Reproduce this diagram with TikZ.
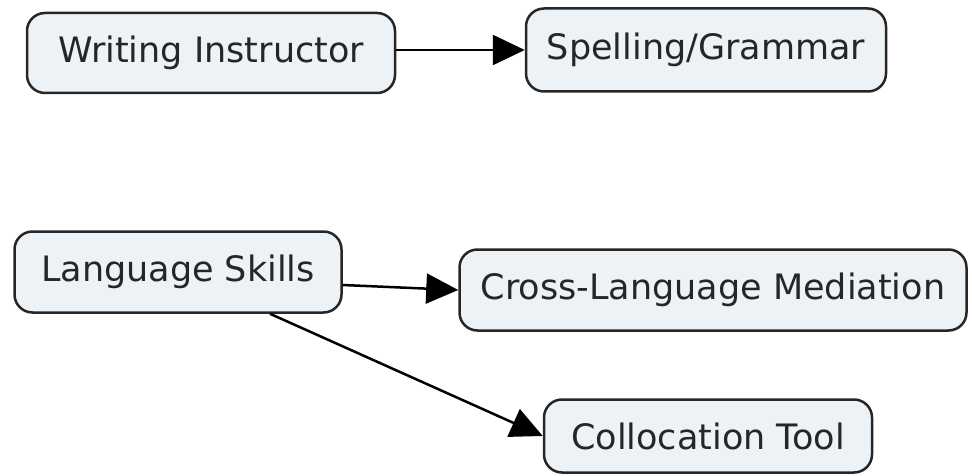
\documentclass[tikz,border=0pt]{standalone}
\usepackage{fontspec}
\setmainfont{DejaVu Sans}
\usetikzlibrary{arrows.meta}
\definecolor{boxfill}{RGB}{236,242,245}
\begin{document}
\begin{tikzpicture}[x=1pt, y=-1pt, >={Triangle[length=32pt,width=30pt]},
		concept/.style={draw=black!85, line width=2.5pt, fill=boxfill, rounded corners=18pt,
			inner sep=0pt, font=\fontsize{35}{42}\selectfont, text=black!85},
		link/.style={->, line width=2.5pt, black}]
		\useasboundingbox (0,0) rectangle (972,476);
		\node[concept, minimum width=368pt, minimum height=80pt] (wi) at (211,53) {Writing Instructor};
		\node[concept, minimum width=360pt, minimum height=83pt] (sg) at (706,50) {Spelling/Grammar};
		\node[concept, minimum width=327pt, minimum height=81pt] (ls) at (178,272) {Language Skills};
		\node[concept, minimum width=507pt, minimum height=81pt] (clm) at (713,290) {Cross-Language Mediation};
		\node[concept, minimum width=328pt, minimum height=73pt] (ct) at (708,436) {Collocation Tool};
		\draw[link] (wi.east |- sg.west) -- (sg.west);
		\draw[link] ([yshift=-13pt]ls.east) -- (clm.west);
		\draw[link] ([xshift=92pt]ls.south) -- (ct.west);
	\end{tikzpicture}
\end{document}
